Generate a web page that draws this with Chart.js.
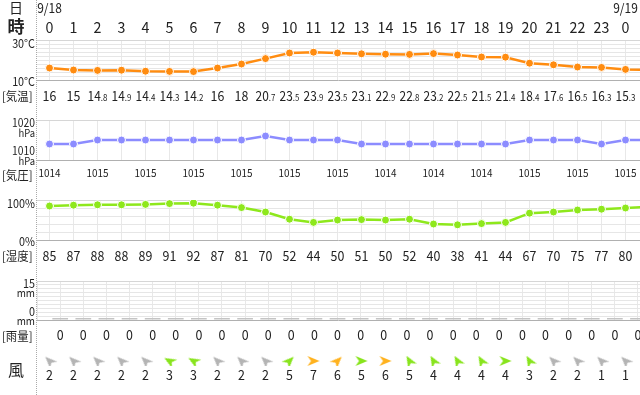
<!DOCTYPE html>
<html>
<head>
<meta charset="utf-8">
<script src="https://cdn.jsdelivr.net/npm/chart.js@4"></script>
<style>
body { margin: 0; background: #fff; }
#wrap { position: relative; width: 640px; height: 395px; overflow: hidden; }
#wrap canvas { position: absolute; left: 0; }
#sep { position: absolute; left: 36px; top: 0; height: 395px; border-left: 1px dotted #aaa; }
</style>
</head>
<body>
<div id="wrap">
  <canvas id="tempChart" width="640" height="106" style="top:0px"></canvas>
  <canvas id="presChart" width="640" height="82" style="top:106px"></canvas>
  <canvas id="humChart" width="640" height="78" style="top:188px"></canvas>
  <canvas id="rainChart" width="640" height="79" style="top:266px"></canvas>
  <canvas id="windChart" width="640" height="50" style="top:345px"></canvas>
  <div id="sep"></div>
</div>
<script>
// hourly forecast, 9/18 0時 .. 9/19 1時 (last column is cut off at the right edge)
const hourLabels = ['0','1','2','3','4','5','6','7','8','9','10','11','12','13','14','15','16','17','18','19','20','21','22','23','0','1'];
const dayCols = [0, 24];
const dayLabels = ['9/18', '9/19'];
const temperature = [16, 15, 14.8, 14.9, 14.4, 14.3, 14.2, 16, 18, 20.7, 23.5, 23.9, 23.5, 23.1, 22.9, 22.8, 23.2, 22.5, 21.5, 21.4, 18.4, 17.6, 16.5, 16.3, 15.3, 15];
const pressure = [1014, 1014, 1015, 1015, 1015, 1015, 1015, 1015, 1015, 1016, 1015, 1015, 1015, 1014, 1014, 1014, 1014, 1014, 1014, 1014, 1015, 1015, 1015, 1014, 1015, 1015];
const humidity = [85, 87, 88, 88, 89, 91, 92, 87, 81, 70, 52, 44, 50, 51, 50, 52, 40, 38, 41, 44, 67, 70, 75, 77, 80, 83];
const rain = [0, 0, 0, 0, 0, 0, 0, 0, 0, 0, 0, 0, 0, 0, 0, 0, 0, 0, 0, 0, 0, 0, 0, 0, 0, 0];
const windSpeed = [2, 2, 2, 2, 2, 3, 3, 2, 2, 2, 5, 7, 6, 5, 6, 5, 4, 4, 4, 4, 3, 2, 2, 1, 1, 1];
const windDir = [315, 315, 315, 315, 315, 300, 300, 315, 315, 315, 45, 90, 45, 90, 90, 330, 330, 330, 330, 90, 330, 315, 315, 315, 315, 315];

const F = '"Noto Sans CJK JP", "Noto Sans", sans-serif';
const INK = '#222';
const LEFT = 37;
// column 0 sits at x=49.5, columns are 24px apart
const xMin = (LEFT - 49.5) / 24;
const xMax = (640 - 49.5) / 24;

function pts(arr) {
    return arr.map((v, i) => ({ x: i, y: v }));
}

function steps(a, b, s) {
    const out = [];
    for (let v = a; v <= b + 1e-9; v += s) out.push({ value: v });
    return out;
}

// sx < 1 squeezes the text a bit, the original font has narrow digits
function put(ctx, s, x, y, px, align, bold, sx) {
    ctx.save();
    ctx.font = (bold ? 'bold ' : '') + px + 'px ' + F;
    ctx.fillStyle = INK;
    ctx.textAlign = align || 'center';
    ctx.textBaseline = 'middle';
    ctx.translate(x, y);
    ctx.scale(sx || 1, 1);
    ctx.fillText(s, 0, 0);
    ctx.restore();
}

// "14.8" -> big "14" + small ".8"
function putTemp(ctx, v, x, y) {
    const s = String(v);
    const dot = s.indexOf('.');
    if (dot < 0) return put(ctx, s, x, y, 13.5, 'center', false, 0.92);
    const a = s.slice(0, dot), b = s.slice(dot);
    ctx.save();
    ctx.fillStyle = INK;
    ctx.textBaseline = 'alphabetic';
    ctx.textAlign = 'left';
    ctx.font = '13.5px ' + F;
    const wa = ctx.measureText(a).width;
    ctx.font = '9px ' + F;
    const wb = ctx.measureText(b).width;
    ctx.translate(x, y + 5);
    ctx.scale(0.88, 1);
    const x0 = -(wa + wb) / 2;
    ctx.font = '13.5px ' + F;
    ctx.fillText(a, x0, 0);
    ctx.font = '9px ' + F;
    ctx.fillText(b, x0 + wa, 0);
    ctx.restore();
}

function xAxis(half) {
    return {
        type: 'linear', min: xMin, max: xMax,
        afterBuildTicks: s => {
            s.ticks = half ? steps(-0.5, 25.5, 1) : steps(0, 25, 1);
        },
        ticks: { display: false },
        border: { display: false },
        grid: { drawTicks: false, color: '#e8e8e8' }
    };
}

function yAxis(min, max, step) {
    return {
        min: min, max: max,
        afterBuildTicks: s => { s.ticks = steps(min, max, step); },
        ticks: { display: false },
        border: { display: false },
        grid: {
            drawTicks: false,
            color: c => c.index === 0 ? '#b0b0b0' : (c.tick && c.tick.value === max ? '#d6d6d6' : '#e6e6e6')
        }
    };
}

function lineSet(data, color) {
    return {
        data: pts(data),
        borderColor: color,
        backgroundColor: color,
        borderWidth: 2.5,
        pointRadius: 4,
        pointBackgroundColor: color,
        pointBorderColor: '#fff',
        pointBorderWidth: 1,
        tension: 0
    };
}

function baseOptions(pad, scales) {
    return {
        responsive: false,
        animation: false,
        events: [],
        layout: { autoPadding: false, padding: pad },
        plugins: { legend: { display: false }, tooltip: { enabled: false } },
        scales: scales
    };
}

// 気温
new Chart(document.getElementById('tempChart'), {
    type: 'line',
    data: { datasets: [lineSet(temperature, '#ff8c10')] },
    options: baseOptions({ left: LEFT, right: 0, top: 40, bottom: 26 }, { x: xAxis(false), y: yAxis(10, 30, 2) }),
    plugins: [{
        id: 'tempText',
        afterDraw(chart) {
            const ctx = chart.ctx, xs = chart.scales.x, ys = chart.scales.y;
            put(ctx, '日', 16, 8, 14);
            dayLabels.forEach((d, k) => put(ctx, d, xs.getPixelForValue(dayCols[k]), 8, 13, 'center', false, 0.92));
            put(ctx, '時', 16, 27, 17, 'center', true);
            hourLabels.forEach((h, i) => put(ctx, h, xs.getPixelForValue(i), 27, 15, 'center', false, 0.95));
            put(ctx, '30°C', 35, ys.getPixelForValue(30) + 3, 12, 'right', false, 0.9);
            put(ctx, '10°C', 35, ys.getPixelForValue(10) + 1, 12, 'right', false, 0.9);
            const row = chart.chartArea.bottom + 16;
            put(ctx, '[気温]', 2, row, 12, 'left', false, 0.95);
            temperature.forEach((v, i) => putTemp(ctx, v, xs.getPixelForValue(i), row));
        }
    }]
});

// 気圧
new Chart(document.getElementById('presChart'), {
    type: 'line',
    data: { datasets: [lineSet(pressure, '#8c8cff')] },
    options: baseOptions({ left: LEFT, right: 0, top: 14, bottom: 28 }, { x: xAxis(false), y: yAxis(1010, 1020, 10) }),
    plugins: [{
        id: 'presText',
        afterDraw(chart) {
            const ctx = chart.ctx, xs = chart.scales.x, ys = chart.scales.y;
            put(ctx, '1020', 35, ys.getPixelForValue(1020) + 3, 11.5, 'right', false, 0.9);
            put(ctx, 'hPa', 35, ys.getPixelForValue(1020) + 13, 10.5, 'right', false, 0.9);
            put(ctx, '1010', 35, ys.getPixelForValue(1010) - 9, 11.5, 'right', false, 0.9);
            put(ctx, 'hPa', 35, ys.getPixelForValue(1010) + 1, 10.5, 'right', false, 0.9);
            const row = chart.chartArea.bottom + 13;
            put(ctx, '[気圧]', 2, row + 2, 12, 'left', false, 0.95);
            pressure.forEach((v, i) => {
                if (i % 2 === 0) put(ctx, String(v), xs.getPixelForValue(i), row, 11, 'center', false, 0.9);
            });
        }
    }]
});

// 湿度
new Chart(document.getElementById('humChart'), {
    type: 'line',
    data: { datasets: [lineSet(humidity, '#8ee81c')] },
    options: baseOptions({ left: LEFT, right: 0, top: 12, bottom: 26 }, { x: xAxis(false), y: yAxis(0, 100, 20) }),
    plugins: [{
        id: 'humText',
        afterDraw(chart) {
            const ctx = chart.ctx, xs = chart.scales.x, ys = chart.scales.y;
            put(ctx, '100%', 35, ys.getPixelForValue(100) + 3, 12, 'right', false, 0.9);
            put(ctx, '0%', 35, ys.getPixelForValue(0) + 1, 12, 'right', false, 0.9);
            const row = chart.chartArea.bottom + 16;
            put(ctx, '[湿度]', 2, row, 12, 'left', false, 0.95);
            humidity.forEach((v, i) => put(ctx, String(v), xs.getPixelForValue(i), row, 13.5, 'center', false, 0.92));
        }
    }]
});

// 雨量
new Chart(document.getElementById('rainChart'), {
    type: 'bar',
    data: {
        datasets: [{
            data: pts(rain),
            backgroundColor: '#c4c4c4',
            minBarLength: 2,
            categoryPercentage: 0.8,
            barPercentage: 0.85
        }]
    },
    options: baseOptions({ left: LEFT, right: 0, top: 15, bottom: 25 }, { x: xAxis(true), y: yAxis(0, 15, 1.5) }),
    plugins: [{
        id: 'rainText',
        afterDraw(chart) {
            const ctx = chart.ctx, xs = chart.scales.x, ys = chart.scales.y;
            put(ctx, '15', 35, ys.getPixelForValue(15) + 2, 12, 'right', false, 0.9);
            put(ctx, 'mm', 35, ys.getPixelForValue(15) + 12, 11, 'right', false, 0.9);
            put(ctx, '0', 35, ys.getPixelForValue(0) - 9, 12, 'right', false, 0.9);
            put(ctx, 'mm', 35, ys.getPixelForValue(0) + 1, 11, 'right', false, 0.9);
            const row = chart.chartArea.bottom + 15;
            put(ctx, '[雨量]', 2, row + 1, 12, 'left', false, 0.95);
            rain.forEach((v, i) => put(ctx, String(v), xs.getPixelForValue(i), row, 13.5, 'center', false, 0.92));
        }
    }]
});

// 風
function arrowImg(color) {
    const c = document.createElement('canvas');
    c.width = 14; c.height = 14;
    const g = c.getContext('2d');
    g.fillStyle = color;
    g.beginPath();
    g.moveTo(7, 1);
    g.lineTo(12, 13);
    g.lineTo(7, 9.5);
    g.lineTo(2, 13);
    g.closePath();
    g.fill();
    return c;
}
const arrowGray = arrowImg('#b4b4b4');
const arrowGreen = arrowImg('#88e41c');
const arrowOrange = arrowImg('#ffb21e');
function arrowFor(speed) {
    if (speed >= 6) return arrowOrange;
    if (speed >= 3) return arrowGreen;
    return arrowGray;
}

new Chart(document.getElementById('windChart'), {
    type: 'scatter',
    data: {
        datasets: [{
            data: windSpeed.map((v, i) => ({ x: i, y: 0 })),
            pointStyle: c => arrowFor(windSpeed[c.dataIndex]),
            rotation: c => windDir[c.dataIndex],
            pointRadius: 6
        }]
    },
    options: baseOptions({ left: LEFT, right: 0, top: 11, bottom: 29 }, {
        x: { type: 'linear', min: xMin, max: xMax, display: false },
        y: { min: -1, max: 1, display: false }
    }),
    plugins: [{
        id: 'windText',
        afterDraw(chart) {
            const ctx = chart.ctx, xs = chart.scales.x;
            put(ctx, '風', 16, 25, 16);
            const row = chart.chartArea.bottom + 9;
            windSpeed.forEach((v, i) => put(ctx, String(v), xs.getPixelForValue(i), row, 13.5, 'center', false, 0.92));
        }
    }]
});
</script>
</body>
</html>
